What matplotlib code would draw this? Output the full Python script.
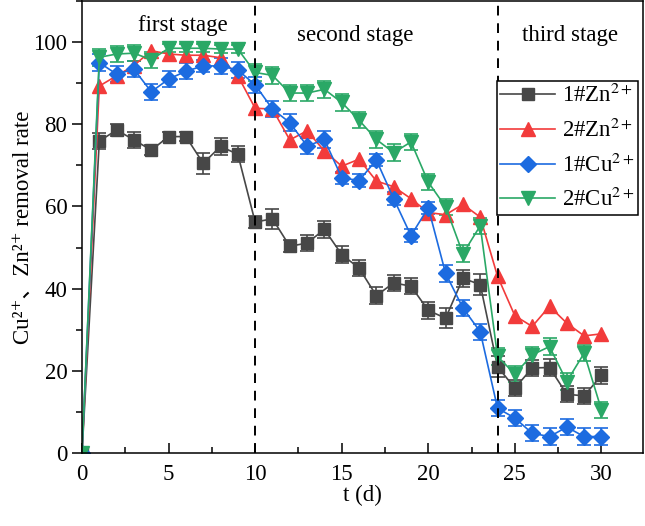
import matplotlib
matplotlib.use("Agg")
import matplotlib.pyplot as plt
from matplotlib.ticker import MultipleLocator

plt.rcParams["font.family"] = ["Liberation Serif", "DejaVu Serif", "Noto Sans CJK SC"]
plt.rcParams["mathtext.fontset"] = "stix"

# days
t = list(range(0, 31))

# removal rate (%)
zn1 = [0, 75.9, 78.6, 76.2, 73.7, 77.0, 77.0, 70.5, 74.6, 72.7,
       56.2, 57.0, 50.3, 51.1, 54.4, 48.3, 45.0, 38.3, 41.4, 40.6,
       34.7, 32.8, 42.5, 41.0, 21.0, 15.8, 20.7, 20.8, 14.3, 13.9, 18.9]
zn1_err = [0, 2.0, 1.5, 2.0, 1.2, 1.0, 1.0, 2.5, 2.0, 2.0,
           1.5, 2.5, 1.5, 2.0, 2.0, 2.0, 2.0, 2.0, 2.0, 2.0,
           2.0, 2.5, 2.0, 2.5, 2.5, 2.0, 2.0, 2.0, 2.0, 2.0, 2.0]

zn2 = [0, 89.3, 91.8, 94.3, 97.9, 97.1, 96.8, 96.8, 96.2, 91.8,
       83.9, 83.7, 76.2, 78.4, 73.5, 69.8, 71.5, 66.2, 64.8, 61.9,
       58.5, 58.0, 60.5, 57.4, 43.0, 33.4, 30.8, 35.7, 31.6, 28.5, 29.0]

cu1 = [0, 95.0, 92.2, 93.4, 87.9, 91.0, 92.9, 94.2, 94.2, 93.2,
       89.6, 83.7, 80.4, 74.7, 76.3, 67.0, 66.3, 71.3, 61.9, 52.9,
       59.7, 43.7, 35.3, 29.5, 10.9, 8.5, 4.8, 4.0, 6.3, 4.0, 4.0]
cu1_err = [0, 2.0, 2.0, 2.0, 2.0, 2.0, 2.0, 1.5, 2.0, 2.0,
           2.0, 2.0, 2.0, 2.0, 2.0, 1.5, 1.5, 1.5, 1.5, 1.5,
           1.5, 2.0, 2.0, 2.0, 2.0, 2.0, 2.0, 2.0, 2.0, 2.0, 2.0]

cu2 = [0, 96.3, 97.1, 97.3, 95.7, 98.5, 98.5, 98.5, 98.3, 98.3,
       92.6, 91.9, 87.6, 87.6, 88.5, 85.3, 81.0, 76.3, 73.1, 75.7,
       65.9, 59.9, 48.5, 55.3, 23.5, 19.2, 23.9, 25.9, 17.4, 24.3, 10.5]
cu2_err = [0, 2.0, 2.0, 2.0, 2.0, 1.0, 1.0, 1.0, 1.0, 1.0,
           2.0, 2.0, 2.0, 2.0, 2.0, 2.0, 2.0, 2.0, 2.0, 2.0,
           2.0, 2.0, 2.0, 2.0, 2.0, 2.0, 2.0, 2.0, 2.0, 2.0, 2.0]

stage_edges = [10, 24]
stage_names = ["first stage", "second stage", "third stage"]

gray = "#474747"
red = "#f23b3b"
blue = "#1c6be0"
green = "#2aa866"

fig = plt.figure(figsize=(6.45, 5.26), dpi=100)
ax = fig.add_axes([82 / 645, 73 / 526, 561 / 645, 452 / 526])

err_kw = dict(fmt="none", capsize=5, elinewidth=1.2, capthick=1.2)
ax.errorbar(t, zn1, yerr=zn1_err, ecolor=gray, **err_kw)
ax.errorbar(t, cu1, yerr=cu1_err, ecolor=blue, **err_kw)
ax.errorbar(t, cu2, yerr=cu2_err, ecolor=green, **err_kw)

ax.plot(t, zn1, color=gray, marker="s", ms=9, lw=1.2, label="1#Zn$^{2+}$")
ax.plot(t, zn2, color=red, marker="^", ms=10, lw=1.2, label="2#Zn$^{2+}$")
ax.plot(t, cu1, color=blue, marker="D", ms=8, lw=1.2, label="1#Cu$^{2+}$")
ax.plot(t, cu2, color=green, marker="v", ms=10, lw=1.2, label="2#Cu$^{2+}$")

for e in stage_edges:
    ax.axvline(e, color="black", ls=(0, (5, 4)), lw=1.4)

ax.text(5.8, 104, stage_names[0], ha="center", va="center", fontsize=16.5)
ax.text(15.8, 101.7, stage_names[1], ha="center", va="center", fontsize=16.5)
ax.text(28.2, 101.7, stage_names[2], ha="center", va="center", fontsize=16.5)

ax.set_xlim(0, 32.4)
ax.set_ylim(0, 110)
ax.xaxis.set_major_locator(MultipleLocator(5))
ax.xaxis.set_minor_locator(MultipleLocator(2.5))
ax.yaxis.set_major_locator(MultipleLocator(20))
ax.yaxis.set_minor_locator(MultipleLocator(10))
ax.tick_params(axis="x", which="both", direction="in", labelsize=16.5, pad=8)
ax.tick_params(axis="x", which="major", length=7, width=1.1)
ax.tick_params(axis="x", which="minor", length=4, width=1.1)
ax.tick_params(axis="y", which="both", direction="out", labelsize=16.5)
ax.tick_params(axis="y", which="major", length=7, width=1.1)
ax.tick_params(axis="y", which="minor", length=4, width=1.1)
for s in ax.spines.values():
    s.set_linewidth(1.1)

ax.set_xlabel("t (d)", fontsize=16.5, labelpad=0)
ax.set_ylabel("Cu²⁺、Zn²⁺ removal rate", fontsize=16.5, labelpad=0)

leg = ax.legend(loc="lower right", bbox_to_anchor=(0.991, 0.527), fontsize=16.5,
                frameon=True, fancybox=False, edgecolor="black", framealpha=1,
                borderaxespad=0, handlelength=2.4, handletextpad=0.3,
                borderpad=0.15, labelspacing=0.5)
leg.get_frame().set_linewidth(1.1)

fig.savefig("out.png", dpi=100)
